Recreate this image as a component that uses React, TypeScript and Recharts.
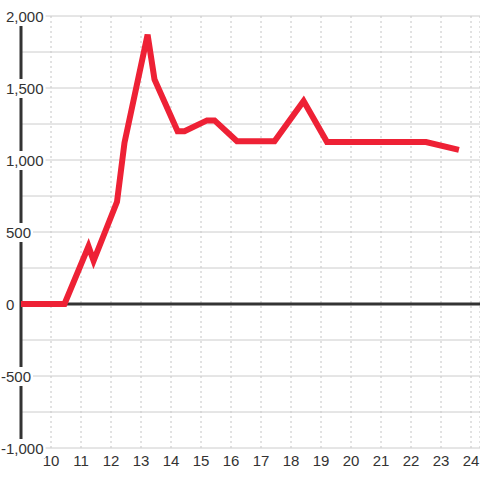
import { LineChart, Line, XAxis, YAxis, CartesianGrid, ReferenceLine } from "recharts";

const days = [9, 10.45, 11.25, 11.42, 12.2, 12.45, 13.22, 13.45, 14.22, 14.45, 15.2, 15.45, 16.2, 17.45, 18.42, 19.2, 22.5, 23.5];
const values = [0, 0, 400, 300, 710, 1120, 1870, 1560, 1200, 1200, 1275, 1275, 1130, 1130, 1410, 1125, 1125, 1075];
const xTicks = [10, 11, 12, 13, 14, 15, 16, 17, 18, 19, 20, 21, 22, 23, 24];
const yTicks = [-1000, -750, -500, -250, 0, 250, 500, 750, 1000, 1250, 1500, 1750, 2000];

const data = days.map((d, i) => ({ day: d, value: values[i] }));

const FONT = "'Liberation Sans', Arial, sans-serif";

const charWidth = (c: string) => (c === "," ? 4.2 : c === "-" ? 5 : 8.34);

function YTick(props: any) {
  const { y, payload } = props;
  const v = payload.value as number;
  if (v % 500 !== 0) return null;
  const label = v.toLocaleString("en-US");
  const w = label.split("").reduce((s, c) => s + charWidth(c), 0);
  const start = v < 0 ? 1 : 6;
  return (
    <g>
      <rect x={start - 1} y={y - 9} width={w + 3} height={19} fill="#ffffff" />
      <text x={start} y={y} dy={5.5} textAnchor="start" fontSize={15} fill="#333" fontFamily={FONT}>
        {label}
      </text>
    </g>
  );
}

function XTick(props: any) {
  const { x, y, payload } = props;
  return (
    <text x={x} y={y} dy={18} textAnchor="middle" fontSize={15} fill="#333" fontFamily={FONT}>
      {payload.value}
    </text>
  );
}

export default function App() {
  return (
    <div style={{ position: "absolute", left: 0, top: 0, width: 480, height: 480, background: "#fff" }}>
      <LineChart width={480} height={480} data={data} margin={{ top: 16, right: 0, bottom: 0, left: 0 }}>
        <CartesianGrid
          horizontal={false}
          stroke="#c4c4c4"
          strokeDasharray="2 3"
        />
        <CartesianGrid vertical={false} stroke="#cccccc" />
        <XAxis
          dataKey="day"
          type="number"
          domain={[9, 24.3]}
          ticks={xTicks}
          height={32}
          axisLine={false}
          tickLine={false}
          tickSize={0}
          tickMargin={0}
          tick={<XTick />}
          allowDataOverflow
        />
        <YAxis
          type="number"
          domain={[-1000, 2000]}
          ticks={yTicks}
          interval={0}
          width={21}
          axisLine={{ stroke: "#333", strokeWidth: 3 }}
          tickLine={false}
          tickSize={0}
          tickMargin={0}
          tick={<YTick />}
          allowDataOverflow
        />
        <ReferenceLine y={0} stroke="#333" strokeWidth={3} />
        <Line
          type="linear"
          dataKey="value"
          stroke="#ee2135"
          strokeWidth={6}
          strokeLinecap="square"
          dot={false}
          activeDot={false}
          isAnimationActive={false}
          zIndex={600}
        />
      </LineChart>
    </div>
  );
}
